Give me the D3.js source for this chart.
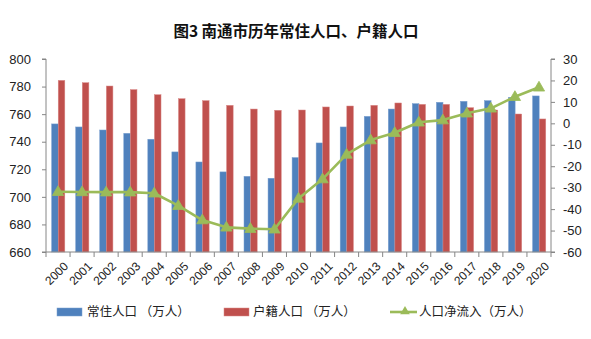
<!DOCTYPE html>
<html><head><meta charset="utf-8">
<script src="https://cdn.jsdelivr.net/npm/d3@7"></script>
<style>
html,body{margin:0;padding:0;background:#fff;}
svg{display:block;}
text{font-family:"Liberation Sans",Arial,sans-serif;}
.cjk{font-family:"Noto Sans CJK SC","Noto Sans",sans-serif;}
</style></head>
<body>
<svg id="c" width="591" height="339"></svg>
<script>
const years = ["2000","2001","2002","2003","2004","2005","2006","2007","2008","2009","2010","2011","2012","2013","2014","2015","2016","2017","2018","2019","2020"];
const resident = [752.9,750.7,748.5,746.1,741.8,732.6,725.3,718.1,714.9,713.5,728.5,739.1,750.7,758.4,763.7,767.6,768.6,769.3,769.8,772.2,773.2];
const registered = [784.5,782.8,780.4,777.8,774.1,771.2,769.8,766.4,763.7,762.8,763.0,765.2,765.9,766.4,768.1,767.1,767.1,764.7,763.0,760.1,756.5];
const netInflow = [-31.9,-32.0,-32.1,-32.1,-32.6,-38.4,-45.1,-48.5,-49.1,-49.4,-35.0,-26.0,-14.5,-7.8,-4.4,0.5,1.5,4.7,7.0,12.4,16.8];
const leftTicks = [660,680,700,720,740,760,780,800];
const rightTicks = [-60,-50,-40,-30,-20,-10,0,10,20,30];
const seriesNames = ["常住人口 （万人）","户籍人口 （万人）","人口净流入（万人）"];
const title = "图3 南通市历年常住人口、户籍人口";

const colors = {blue:"#4F81BD", red:"#C0504D", green:"#9BBB59", axis:"#868686", text:"#222"};
const L=46, R=551, T=59, B=252;
const svg = d3.select("#c");

const x = d3.scaleBand().domain(years).range([L,R]).paddingInner(0).paddingOuter(0);
const yL = d3.scaleLinear().domain([660,800]).range([B,T]);
const yR = d3.scaleLinear().domain([-60,30]).range([B,T]);
const fmt = d => String(d);

// title
svg.append("text").attr("class","cjk").attr("x",296).attr("y",37).attr("text-anchor","middle")
  .attr("font-size",15.5).attr("font-weight","bold").attr("fill","#111").attr("xml:space","preserve").text(title);

// bars
const bw = 6.6;
const gOff = x.bandwidth()/2 + 0.2;
svg.append("g").selectAll("rect").data(years).join("rect")
  .attr("x",d=>x(d)+gOff-bw).attr("y",(d,i)=>yL(resident[i]))
  .attr("width",bw).attr("height",(d,i)=>B-yL(resident[i]))
  .attr("fill",colors.blue).attr("stroke","#7aa0d0").attr("stroke-width",0.5);
svg.append("g").selectAll("rect").data(years).join("rect")
  .attr("x",d=>x(d)+gOff).attr("y",(d,i)=>yL(registered[i]))
  .attr("width",bw).attr("height",(d,i)=>B-yL(registered[i]))
  .attr("fill",colors.red).attr("stroke","#d98a88").attr("stroke-width",0.5);

// axes
const axL = d3.axisLeft(yL).tickValues(leftTicks).tickSize(4).tickPadding(11).tickFormat(fmt);
const gL = svg.append("g").attr("transform",`translate(${L},0)`).call(axL);
const axR = d3.axisRight(yR).tickValues(rightTicks).tickSize(4).tickPadding(8).tickFormat(fmt);
const gR = svg.append("g").attr("transform",`translate(${R},0)`).call(axR);
[gL,gR].forEach(g=>{
  g.select(".domain").attr("stroke",colors.axis);
  g.selectAll(".tick line").attr("stroke",colors.axis);
  g.selectAll(".tick text").attr("font-size",13).attr("fill",colors.text).attr("font-family","'Liberation Sans',Arial,sans-serif");
});
gL.select(".domain").attr("d",`M-4,${T}H0V${B}H-4`);
gR.select(".domain").attr("d",`M4,${T}H0V${B}H4`);

// x axis
const gX = svg.append("g");
gX.append("line").attr("x1",L).attr("x2",R).attr("y1",B).attr("y2",B).attr("stroke",colors.axis);
gX.selectAll("line.t").data(years.concat(["end"])).join("line").attr("class","t")
  .attr("x1",(d,i)=>i<years.length?x(d):R).attr("x2",(d,i)=>i<years.length?x(d):R)
  .attr("y1",B).attr("y2",B+5).attr("stroke",colors.axis);
gX.selectAll("text").data(years).join("text")
  .attr("transform",d=>`translate(${x(d)+x.bandwidth()/2+5},${B+9}) rotate(-45)`)
  .attr("text-anchor","end").attr("dy","0.7em").attr("font-size",12).attr("fill",colors.text).text(d=>d);

// line
const line = d3.line().x((d,i)=>x(years[i])+x.bandwidth()/2).y(d=>yR(d));
svg.append("path").datum(netInflow).attr("d",line).attr("fill","none")
  .attr("stroke",colors.green).attr("stroke-width",2.6).attr("stroke-linejoin","round");
const tri = d3.symbol().type(d3.symbolTriangle).size(55);
svg.append("g").selectAll("path").data(netInflow).join("path")
  .attr("d",tri).attr("transform",(d,i)=>`translate(${x(years[i])+x.bandwidth()/2},${yR(d)+0.5})`)
  .attr("fill",colors.green).attr("stroke",colors.green).attr("stroke-width",0.8);

// legend
const ly = 312;
const lg = svg.append("g");
lg.append("rect").attr("x",57).attr("y",ly-4).attr("width",25).attr("height",8).attr("fill",colors.blue).attr("stroke","#7aa0d0").attr("stroke-width",0.5);
lg.append("text").attr("class","cjk").attr("x",87).attr("y",ly).attr("dy","0.35em").attr("font-size",12.5).attr("fill",colors.text).text(seriesNames[0]);
lg.append("rect").attr("x",224).attr("y",ly-4).attr("width",25).attr("height",8).attr("fill",colors.red).attr("stroke","#d98a88").attr("stroke-width",0.5);
lg.append("text").attr("class","cjk").attr("x",253).attr("y",ly).attr("dy","0.35em").attr("font-size",12.5).attr("fill",colors.text).text(seriesNames[1]);
lg.append("line").attr("x1",390).attr("x2",417).attr("y1",ly).attr("y2",ly).attr("stroke",colors.green).attr("stroke-width",2.6);
lg.append("path").attr("d",d3.symbol().type(d3.symbolTriangle).size(40)).attr("transform",`translate(405,${ly-0.5})`).attr("fill",colors.green);
lg.append("text").attr("class","cjk").attr("x",419).attr("y",ly).attr("dy","0.35em").attr("font-size",12.5).attr("fill",colors.text).text(seriesNames[2]);
</script>
</body></html>
